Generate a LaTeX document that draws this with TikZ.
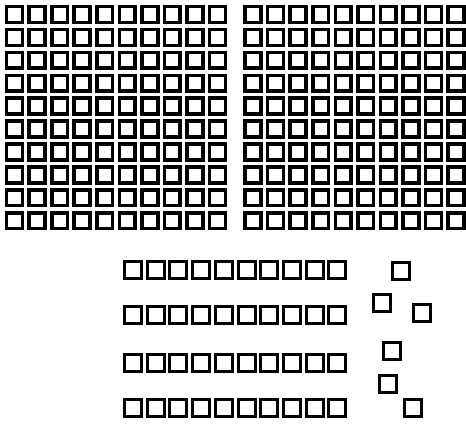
\documentclass[tikz,border=0pt]{standalone}
\usepackage{tikz}
\usetikzlibrary{positioning}

\begin{document}
\begin{tikzpicture}[
    x=1pt, y=-1pt,
    cell/.style={rectangle, draw, line width=3.6pt, minimum size=15.8pt, inner sep=0pt},
    unit/.style={rectangle, draw, line width=3pt, minimum size=17pt, inner sep=0pt}
]
    \useasboundingbox[fill=white] (0,0) rectangle (466,426);
    % two hundreds
    \foreach \r in {0,...,9} {
        \foreach \c in {0,...,9} {
            \node[cell] (L-\r-\c) at ({14.5+22.55*\c},{14.5+22.9*\r}) {};
            \node[cell] (R-\r-\c) at ({253+22.55*\c},{14.5+22.9*\r}) {};
        }
    }
    % four tens
    \foreach \r/\y in {1/270,2/315,3/363,4/408} {
        \foreach \c in {0,...,9} {
            \node[unit] (ten-\r-\c) at ({133+22.7*\c},\y) {};
        }
    }
    % six ones
    \node[unit] (one-1) at (401,271) {};
    \node[unit] (one-2) at (381.5,303) {};
    \node[unit] (one-3) at (422,313) {};
    \node[unit] (one-4) at (391.5,351) {};
    \node[unit] (one-5) at (388,384) {};
    \node[unit] (one-6) at (412.5,408) {};
\end{tikzpicture}
\end{document}
